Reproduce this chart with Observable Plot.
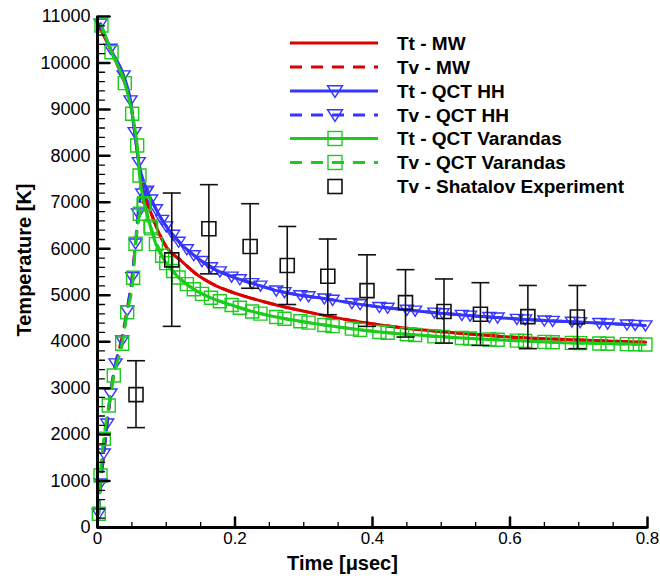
<!DOCTYPE html>
<html><head><meta charset="utf-8">
<script src="https://cdn.jsdelivr.net/npm/d3@7"></script>
<script src="https://cdn.jsdelivr.net/npm/@observablehq/plot@0.6"></script>
<style>body{margin:0;background:#fff;}</style>
</head><body><div id="chart"></div>
<script>
// ---- data: [time (µs), temperature (K)] ----
const mwTt = [[0,10850],[0.01,10560],[0.02,10250],[0.03,9920],[0.04,9550],[0.048,9150],[0.054,8520],[0.06,7860],[0.065,7350],[0.07,7050],[0.077,6800],[0.09,6320],[0.1,6040],[0.121,5750],[0.145,5440],[0.169,5230],[0.195,5070],[0.218,4960],[0.26,4790],[0.315,4610],[0.36,4480],[0.412,4360],[0.46,4275],[0.509,4205],[0.56,4145],[0.605,4097],[0.65,4065],[0.703,4035],[0.75,4010],[0.797,3990]];
const mwTv = [[0,300],[0.005,1000],[0.01,1700],[0.015,2350],[0.02,2950],[0.027,3550],[0.035,4050],[0.043,4680],[0.05,5350],[0.055,6050],[0.06,6700],[0.066,7000],[0.07,7050],[0.077,6800],[0.09,6320],[0.1,6040],[0.121,5750],[0.145,5440],[0.169,5230],[0.195,5070],[0.218,4960],[0.26,4790],[0.315,4610],[0.36,4480],[0.412,4360],[0.46,4275],[0.509,4205],[0.56,4145],[0.605,4097],[0.65,4065],[0.703,4035],[0.75,4010],[0.797,3990]];

const hhTt = [[0.0044,10844],[0.019,10306],[0.038,9731],[0.048,9193],[0.054,8510],[0.060,7865],[0.072,7250],[0.085,6850],[0.100,6480],[0.118,6150],[0.140,5860],[0.165,5600],[0.195,5400],[0.225,5260],[0.260,5100],[0.295,5000],[0.330,4930],[0.370,4830],[0.410,4747],[0.450,4685],[0.490,4625],[0.530,4575],[0.570,4530],[0.610,4490],[0.650,4455],[0.690,4428],[0.730,4400],[0.770,4370],[0.797,4349]];
const hhTv = [[0.0019,301],[0.0044,947],[0.0092,1593],[0.0141,2239],[0.0189,2885],[0.0262,3531],[0.0359,4026],[0.0432,4672],[0.0505,5389],[0.0553,6114],[0.0590,6760],[0.065,7190],[0.071,7230],[0.078,7060],[0.094,6620],[0.110,6300],[0.130,5990],[0.152,5735],[0.178,5513],[0.207,5344],[0.237,5205],[0.272,5066],[0.307,4976],[0.342,4900],[0.382,4805],[0.422,4730],[0.462,4668],[0.502,4610],[0.542,4560],[0.582,4518],[0.622,4480],[0.662,4447],[0.702,4420],[0.742,4390],[0.782,4360]];

const varTt = [[0.0058,10807],[0.0204,10232],[0.0397,9565],[0.0504,8905],[0.0577,8224],[0.0611,7578],[0.068,6980],[0.077,6480],[0.085,6100],[0.100,5690],[0.118,5380],[0.140,5130],[0.165,4945],[0.195,4790],[0.225,4650],[0.260,4530],[0.295,4440],[0.330,4360],[0.370,4280],[0.410,4208],[0.450,4160],[0.490,4115],[0.530,4078],[0.570,4048],[0.610,4022],[0.650,3995],[0.690,3974],[0.730,3960],[0.770,3948],[0.797,3940]];
const varTv = [[0.0019,295],[0.0044,1119],[0.0092,1910],[0.0164,2626],[0.0237,3272],[0.0359,3955],[0.0432,4635],[0.0518,5376],[0.0553,6108],[0.0615,6754],[0.067,6950],[0.078,6440],[0.094,5850],[0.110,5520],[0.130,5240],[0.152,5030],[0.178,4870],[0.207,4730],[0.237,4605],[0.272,4495],[0.307,4410],[0.342,4335],[0.382,4255],[0.422,4193],[0.462,4145],[0.502,4103],[0.542,4068],[0.582,4040],[0.622,4014],[0.662,3989],[0.702,3970],[0.742,3957],[0.782,3945]];

const expTime = [0.056,0.108,0.162,0.222,0.276,0.335,0.392,0.448,0.504,0.557,0.626,0.698];
const expTemp = [2860,5760,6430,6050,5640,5410,5100,4840,4650,4590,4540,4530];
const expLow  = [2150,4330,5460,5150,4800,4580,4330,4100,3970,3920,3850,3850];
const expHigh = [3590,7200,7380,6970,6480,6210,5870,5550,5350,5270,5210,5210];

const xMajor = [0,0.2,0.4,0.6,0.8];
const xMinor = [0.05,0.1,0.15,0.25,0.3,0.35,0.45,0.5,0.55,0.65,0.7,0.75];
const yMajor = [0,1000,2000,3000,4000,5000,6000,7000,8000,9000,10000,11000];
const yMinor = d3.range(0, 11000, 200).filter(v => v % 1000 !== 0);

const legendLabels = ["Tt - MW","Tv - MW","Tt - QCT HH","Tv - QCT HH","Tt - QCT Varandas","Tv - QCT Varandas","Tv - Shatalov Experiment"];

// ---- styles ----
const RED = "#dd0000", BLUE = "#3535ff", GREEN = "#1ccc1c";
const DASH = "12,9";
const exp = expTime.map((t, i) => ({t, T: expTemp[i], lo: expLow[i], hi: expHigh[i]}));

const triDown = {draw(ctx, size){ const r = Math.sqrt(size/Math.PI); ctx.moveTo(-r,-r*0.7); ctx.lineTo(r,-r*0.7); ctx.lineTo(0,r*0.85); ctx.closePath(); }};
const sq = {draw(ctx, size){ const r = Math.sqrt(size/Math.PI); ctx.rect(-r,-r,2*r,2*r); }};
const cap = {draw(ctx, size){ const r = Math.sqrt(size/Math.PI); ctx.moveTo(-r,0); ctx.lineTo(r,0); }};
const tickShape = {draw(ctx, l){ ctx.moveTo(0,0); ctx.lineTo(0,-l); }};

const X = d => d[0], Y = d => d[1];
const line = (data, stroke, dashed) => Plot.line(data, {x: X, y: Y, stroke, strokeWidth: 3, curve: "monotone-x", strokeDasharray: dashed ? DASH : null});
const marks = (data, stroke, symbol) => Plot.dot(data, {x: X, y: Y, stroke, fill: "none", strokeWidth: 1.4, r: 6.5, symbol});

const chart = Plot.plot({
  width: 660, height: 580,
  marginLeft: 97, marginRight: 13, marginTop: 16, marginBottom: 53,
  style: {fontFamily: "'Liberation Sans', Arial, sans-serif", background: "white", color: "black"},
  x: {domain: [0, 0.8], axis: null},
  y: {domain: [0, 11000], axis: null},
  marks: [
    line(mwTt, RED, false),
    line(mwTv, RED, true),
    line(hhTt, BLUE, false),
    line(hhTv, BLUE, true),
    marks(hhTt, BLUE, triDown),
    marks(hhTv, BLUE, triDown),
    line(varTt, GREEN, false),
    line(varTv, GREEN, true),
    marks(varTt, GREEN, sq),
    marks(varTv, GREEN, sq),
    Plot.ruleX(exp, {x: "t", y1: "lo", y2: "hi", stroke: "#111", strokeWidth: 1.6}),
    Plot.dot(exp, {x: "t", y: "lo", symbol: cap, r: 9, stroke: "#111", strokeWidth: 1.6}),
    Plot.dot(exp, {x: "t", y: "hi", symbol: cap, r: 9, stroke: "#111", strokeWidth: 1.6}),
    Plot.dot(exp, {x: "t", y: "T", symbol: sq, r: 7, stroke: "#111", fill: "none", strokeWidth: 1.6}),
    // axes
    Plot.ruleX([0], {stroke: "black", strokeWidth: 3}),
    Plot.ruleY([0], {stroke: "black", strokeWidth: 3}),
    Plot.vector(xMajor, {x: d => d, y: () => 0, length: 10, anchor: "start", shape: tickShape, stroke: "black", strokeWidth: 2.5}),
    Plot.vector(xMinor, {x: d => d, y: () => 0, length: 5, anchor: "start", shape: tickShape, stroke: "black", strokeWidth: 1.3}),
    Plot.vector(yMajor, {x: () => 0, y: d => d, length: 12, rotate: 90, anchor: "start", shape: tickShape, stroke: "black", strokeWidth: 2.5}),
    Plot.vector(yMinor, {x: () => 0, y: d => d, length: 7, rotate: 90, anchor: "start", shape: tickShape, stroke: "black", strokeWidth: 1.3}),
    Plot.axisX(xMajor, {tickSize: 0, tickPadding: 4, fontSize: 17, label: null, tickFormat: d => String(d)}),
    Plot.axisY(yMajor, {tickSize: 0, tickPadding: 7, fontSize: 18, label: null, tickFormat: d => String(d)}),
    Plot.text(["Time [\u03bcsec]"], {text: d => d, frameAnchor: "bottom", dx: -30, dy: 42, fontSize: 20, fontWeight: "bold"}),
    Plot.text(["Temperature [K]"], {text: d => d, frameAnchor: "left", textAnchor: "middle", dx: -73, dy: -12, rotate: -90, fontSize: 20, fontWeight: "bold"})
  ]
});

// ---- legend ----
const svg = d3.select(chart);
const lg = svg.append("g").attr("font-family", "'Liberation Sans', Arial, sans-serif").attr("text-anchor", "start");
const rows = [
  {color: RED, dash: false, sym: null},
  {color: RED, dash: true, sym: null},
  {color: BLUE, dash: false, sym: "tri"},
  {color: BLUE, dash: true, sym: "tri"},
  {color: GREEN, dash: false, sym: "sq"},
  {color: GREEN, dash: true, sym: "sq"},
  {color: "#111", dash: null, sym: "sq"}
];
const rowY = [43, 67, 91, 115, 138.5, 162.5, 186.5];
rows.forEach((r, i) => {
  const y = rowY[i];
  if (r.dash !== null) {
    lg.append("line").attr("x1", 290).attr("x2", 378).attr("y1", y).attr("y2", y)
      .attr("stroke", r.color).attr("stroke-width", 3).attr("stroke-dasharray", r.dash ? DASH : null);
  }
  if (r.sym === "tri") {
    lg.append("path").attr("d", d3.symbol({draw: triDown.draw}, Math.PI*7.5*7.5)()).attr("transform", `translate(335,${y})`)
      .attr("fill", "none").attr("stroke", r.color).attr("stroke-width", 1.4);
  } else if (r.sym === "sq") {
    const rr = 7;
    lg.append("rect").attr("x", 335-rr).attr("y", y-rr).attr("width", 2*rr).attr("height", 2*rr)
      .attr("fill", "none").attr("stroke", r.color).attr("stroke-width", i === 6 ? 1.6 : 1.4);
  }
  lg.append("text").attr("x", 397).attr("y", y).attr("dy", "0.36em").attr("font-size", 19).attr("font-weight", "bold")
    .attr("text-anchor", "start").attr("fill", "black").text(legendLabels[i]);
});

document.getElementById("chart").appendChild(chart);
</script>
</body></html>
